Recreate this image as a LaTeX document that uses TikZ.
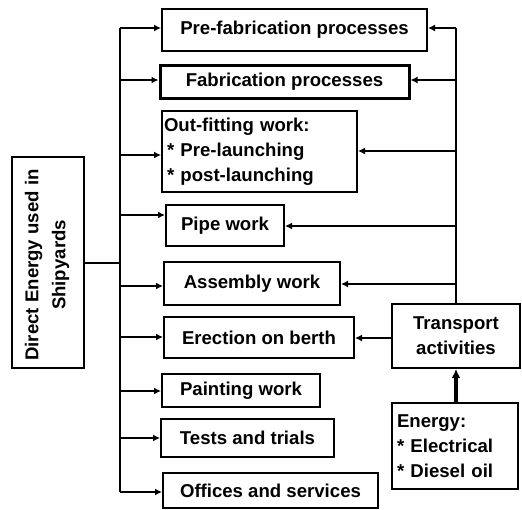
\documentclass[tikz,border=0pt]{standalone}
\usepackage{fontspec}
\setmainfont{Liberation Sans}
\usetikzlibrary{arrows.meta}
\begin{document}
\begin{tikzpicture}[x=1pt,y=-1pt,
  box/.style={draw, line width=2pt, inner sep=0pt, font=\fontsize{18.6}{25}\selectfont\bfseries, align=center},
  conn/.style={line width=2pt},
  arr/.style={line width=2pt, -{Latex[length=7pt,width=7pt]}},
  bigarr/.style={line width=3.5pt, -{Latex[length=9pt,width=9pt]}}
]
\useasboundingbox (0,0) rectangle (522,509);
% boxes
\node[box, minimum width=72pt, minimum height=211pt] (direct) at (48,262.5) {};
\node[rotate=90, font=\fontsize{18.6}{27}\selectfont\bfseries, align=center] (directtxt) at (47,265) {Direct Energy used in\\Shipyards};
\node[box, minimum width=265pt, minimum height=42pt] (pre) at (294.5,30) {Pre-fabrication processes};
\node[box, line width=3pt, minimum width=249pt, minimum height=33pt] (fab) at (284.5,81.5) {Fabrication processes};
\node[box, minimum width=195pt, minimum height=81pt, text width=191pt, align=left] (out) at (259.5,151.5) {Out-fitting work:\\{}\hspace*{3pt}* Pre-launching\\{}\hspace*{3pt}* post-launching};
\node[box, minimum width=118pt, minimum height=41pt] (pipe) at (225,225.5) {Pipe work};
\node[box, minimum width=176pt, minimum height=43pt] (asm) at (252,283.5) {Assembly work};
\node[box, minimum width=190pt, minimum height=41pt] (ere) at (259,337.5) {Erection on berth};
\node[box, minimum width=158pt, minimum height=33pt] (paint) at (241,390.5) {Painting work};
\node[box, minimum width=173pt, minimum height=38pt] (tests) at (247.5,438) {Tests and trials};
\node[box, minimum width=215pt, minimum height=35pt] (off) at (270.5,490.5) {Offices and services};
\node[box, minimum width=128pt, minimum height=64pt] (trans) at (456,336) {Transport\\activities};
\node[box, minimum width=126pt, minimum height=86pt, text width=116pt, align=left] (energy) at (455,446) {Energy:\\{}* Electrical\\{}* Diesel oil};
% left trunk
\coordinate (lt0) at (120,263);
\coordinate (lt1) at (120,28);
\coordinate (lt2) at (120,80);
\coordinate (lt3) at (120,155);
\coordinate (lt4) at (120,215);
\coordinate (lt5) at (120,286);
\coordinate (lt6) at (120,337);
\coordinate (lt7) at (120,391);
\coordinate (lt8) at (120,438);
\coordinate (lt9) at (120,492);
\draw[conn] (direct.east |- lt0) -- (lt0);
\draw[conn] (lt1) -- (lt9);
\draw[arr] (lt1) -- (pre.west |- lt1);
\draw[arr] (lt2) -- (fab.west |- lt2);
\draw[arr] (lt3) -- (out.west |- lt3);
\draw[arr] (lt4) -- (pipe.west |- lt4);
\draw[arr] (lt5) -- (asm.west |- lt5);
\draw[arr] (lt6) -- (ere.west |- lt6);
\draw[arr] (lt7) -- (paint.west |- lt7);
\draw[arr] (lt8) -- (tests.west |- lt8);
\draw[arr] (lt9) -- (off.west |- lt9);
% right trunk
\coordinate (rt1) at (456,28);
\coordinate (rt2) at (456,80);
\coordinate (rt3) at (456,151);
\coordinate (rt4) at (456,226);
\coordinate (rt5) at (456,284);
\coordinate (rt6) at (456,338);
\draw[conn] (trans.north) -- (rt1);
\draw[arr] (rt1) -- (pre.east |- rt1);
\draw[arr] (rt2) -- (fab.east |- rt2);
\draw[arr] (rt3) -- (out.east |- rt3);
\draw[arr] (rt4) -- (pipe.east |- rt4);
\draw[arr] (rt5) -- (asm.east |- rt5);
\draw[arr] (trans.west |- rt6) -- (ere.east |- rt6);
\draw[bigarr] (energy.north -| trans.south) -- (trans.south);
\end{tikzpicture}
\end{document}
